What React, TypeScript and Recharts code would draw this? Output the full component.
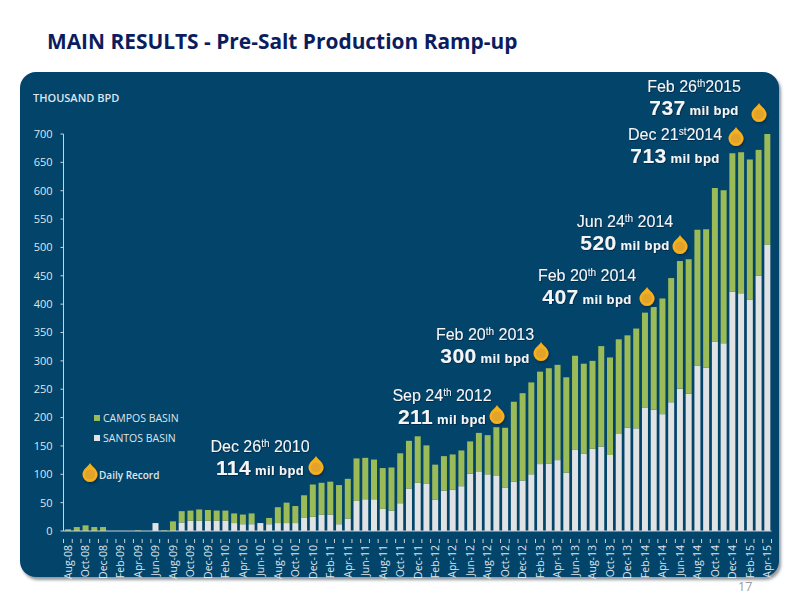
import { Bar, BarChart, Legend, XAxis, YAxis } from "recharts"

const MONTHS = [
  "Aug-08", "Sep-08", "Oct-08", "Nov-08", "Dec-08", "Jan-09", "Feb-09", "Mar-09", "Apr-09", "May-09", "Jun-09", "Jul-09",
  "Aug-09", "Sep-09", "Oct-09", "Nov-09", "Dec-09", "Jan-10", "Feb-10", "Mar-10", "Apr-10", "May-10", "Jun-10", "Jul-10",
  "Aug-10", "Sep-10", "Oct-10", "Nov-10", "Dec-10", "Jan-11", "Feb-11", "Mar-11", "Apr-11", "May-11", "Jun-11", "Jul-11",
  "Aug-11", "Sep-11", "Oct-11", "Nov-11", "Dec-11", "Jan-12", "Feb-12", "Mar-12", "Apr-12", "May-12", "Jun-12", "Jul-12",
  "Aug-12", "Sep-12", "Oct-12", "Nov-12", "Dec-12", "Jan-13", "Feb-13", "Mar-13", "Apr-13", "May-13", "Jun-13", "Jul-13",
  "Aug-13", "Sep-13", "Oct-13", "Nov-13", "Dec-13", "Jan-14", "Feb-14", "Mar-14", "Apr-14", "May-14", "Jun-14", "Jul-14",
  "Aug-14", "Sep-14", "Oct-14", "Nov-14", "Dec-14", "Jan-15", "Feb-15", "Mar-15", "Apr-15",
]

const SANTOS = [
  0, 0, 0, 0, 0, 0, 0, 0, 0, 0, 14, 0,
  0, 15, 18, 18, 18, 18, 18, 14, 12, 12, 14, 12,
  14, 14, 14, 23, 25, 29, 29, 12, 22, 53, 56, 56,
  39, 36, 49, 75, 85, 83, 55, 71, 73, 79, 101, 104,
  100, 97, 76, 87, 89, 100, 118, 119, 125, 103, 143, 136,
  145, 149, 134, 171, 182, 181, 217, 214, 206, 227, 251, 242,
  292, 288, 334, 331, 422, 419, 408, 450, 505,
]

const CAMPOS = [
  3, 7, 10, 7, 7, 0, 0, 0, 1, 0, 0, 1,
  17, 20, 18, 20, 19, 18, 18, 17, 17, 19, 0, 11,
  28, 36, 30, 40, 57, 56, 58, 69, 70, 75, 73, 70,
  72, 76, 88, 84, 82, 68, 62, 61, 62, 63, 57, 69,
  69, 86, 106, 141, 154, 162, 163, 168, 168, 168, 166, 159,
  155, 177, 172, 167, 163, 176, 168, 181, 204, 219, 225, 237,
  239, 244, 271, 270, 244, 249, 247, 222, 195,
]

const Y_TICKS = [0, 50, 100, 150, 200, 250, 300, 350, 400, 450, 500, 550, 600, 650, 700]

const RECORDS = [
  { day: "Dec 26", suffix: "th", year: " 2010", value: "114", x: 260, y: 452, dropX: 316, dropY: 466 },
  { day: "Sep 24", suffix: "th", year: " 2012", value: "211", x: 442, y: 401, dropX: 497, dropY: 415 },
  { day: "Feb 20", suffix: "th", year: " 2013", value: "300", x: 485, y: 340, dropX: 541, dropY: 352 },
  { day: "Feb 20", suffix: "th", year: " 2014", value: "407", x: 587, y: 281, dropX: 647, dropY: 297 },
  { day: "Jun 24", suffix: "th", year: " 2014", value: "520", x: 625, y: 227, dropX: 680, dropY: 245 },
  { day: "Dec 21", suffix: "st", year: "2014", value: "713", x: 675, y: 140, dropX: 736, dropY: 137 },
  { day: "Feb 26", suffix: "th", year: "2015", value: "737", x: 694, y: 92, dropX: 759, dropY: 113 },
]

const chartData = MONTHS.map((month, i) => ({
  month,
  santos: SANTOS[i],
  campos: CAMPOS[i],
}))

const AXIS_COLOR = "#c9d3db"
const LABEL_COLOR = "#dfe6eb"
const UI_FONT = "'Open Sans', sans-serif"
const NOTE_FONT = "'Liberation Sans Narrow', 'Liberation Sans', Arial, sans-serif"

const PLOT_LEFT = 63.5
const PLOT_RIGHT = 771.5
const BAND = (PLOT_RIGHT - PLOT_LEFT) / MONTHS.length

const MonthTick = ({ x, y, payload, index }: any) => {
  const left = x - BAND / 2
  return (
    <g>
      <line x1={left} x2={left} y1={y} y2={y + 4} stroke={AXIS_COLOR} />
      {index === MONTHS.length - 1 && (
        <line x1={left + BAND} x2={left + BAND} y1={y} y2={y + 4} stroke={AXIS_COLOR} />
      )}
      {index % 2 === 0 && (
        <text
          transform={`translate(${x + 4},${y + 6}) rotate(-90)`}
          textAnchor="end"
          fontSize={10.5}
          fontFamily={UI_FONT}
          fill={LABEL_COLOR}
        >
          {payload.value}
        </text>
      )}
    </g>
  )
}

const Drop = ({ x, y }: { x: number; y: number }) => (
  <g transform={`translate(${x},${y})`} filter="url(#dropShadow)">
    <path
      d="M0,-10 C1.5,-6.5 7.5,-4 7.5,1.5 A7.5,7.5 0 0 1 -7.5,1.5 C-7.5,-4 -1.5,-6.5 0,-10 Z"
      fill="#f5b01a"
    />
    <circle cx={0} cy={1.5} r={5} fill="#e3a32c" />
  </g>
)

const BasinLegend = () => (
  <div style={{ fontFamily: UI_FONT, fontSize: 10.5, color: LABEL_COLOR, lineHeight: "20px" }}>
    {[
      { name: "CAMPOS BASIN", color: "#9bbb59" },
      { name: "SANTOS BASIN", color: "#e0e2e4" },
    ].map((item) => (
      <div key={item.name} style={{ display: "flex", alignItems: "center" }}>
        <span style={{ width: 6, height: 6, marginRight: 3, background: item.color }} />
        {item.name}
      </div>
    ))}
  </div>
)

export default function App() {
  return (
    <div style={{ position: "absolute", left: 0, top: 0, width: 800, height: 600, background: "#fff", overflow: "hidden" }}>
      <div
        style={{
          position: "absolute",
          left: 47,
          top: 27,
          fontFamily: UI_FONT,
          fontWeight: 700,
          fontSize: 20.9,
          color: "#0b1d5e",
          whiteSpace: "nowrap",
        }}
      >
        MAIN RESULTS - Pre-Salt Production Ramp-up
      </div>
      <div
        style={{
          position: "absolute",
          left: 20,
          top: 72,
          width: 759,
          height: 505,
          borderRadius: 16,
          background: "#03446a",
          boxShadow: "2px 3px 3px rgba(90,100,110,0.65)",
        }}
      />
      <div
        style={{
          position: "absolute",
          left: 33,
          top: 90,
          fontFamily: UI_FONT,
          fontSize: 11,
          fontWeight: 600,
          color: LABEL_COLOR,
        }}
      >
        THOUSAND BPD
      </div>
      <div style={{ position: "absolute", left: 0, top: 0 }}>
        <BarChart
          width={800}
          height={600}
          data={chartData}
          barCategoryGap="18%"
          margin={{ top: 134, right: 800 - PLOT_RIGHT, bottom: 0, left: 0 }}
        >
          <YAxis
            width={PLOT_LEFT}
            domain={[0, 700]}
            ticks={Y_TICKS}
            interval={0}
            stroke={AXIS_COLOR}
            tickSize={3}
            tickMargin={8}
            tick={{ fontSize: 11, fontFamily: UI_FONT, fill: LABEL_COLOR }}
          />
          <XAxis
            dataKey="month"
            height={69}
            interval={0}
            stroke={AXIS_COLOR}
            tickLine={false}
            tick={<MonthTick />}
          />
          <Legend
            layout="horizontal"
            verticalAlign="middle"
            align="center"
            wrapperStyle={{ left: 94, top: 408, width: 110 }}
            content={<BasinLegend />}
          />
          <Bar dataKey="santos" stackId="a" fill="#e0e2e4" isAnimationActive={false} />
          <Bar dataKey="campos" stackId="a" fill="#9bbb59" isAnimationActive={false} />
        </BarChart>
      </div>
      <svg width={800} height={600} style={{ position: "absolute", left: 0, top: 0 }}>
        <defs>
          <filter id="dropShadow" x="-40%" y="-40%" width="200%" height="200%">
            <feDropShadow dx={1} dy={1.5} stdDeviation={1} floodColor="#01233a" floodOpacity={0.7} />
          </filter>
          <filter id="textShadow" x="-10%" y="-20%" width="120%" height="150%">
            <feDropShadow dx={0.8} dy={0.8} stdDeviation={0.6} floodColor="#01233a" floodOpacity={0.8} />
          </filter>
        </defs>
        {RECORDS.map((r) => (
          <g key={r.value}>
            <Drop x={r.dropX} y={r.dropY} />
            <text
              x={r.x}
              y={r.y}
              textAnchor="middle"
              fontFamily={NOTE_FONT}
              fontSize={16}
              fill="#f3f5f7"
              filter="url(#textShadow)"
            >
              {r.day}
              <tspan fontSize={10} dy={-5}>{r.suffix}</tspan>
              <tspan dy={5}>{r.year}</tspan>
            </text>
            <text
              x={r.x}
              y={r.y + 23}
              textAnchor="middle"
              fontFamily={NOTE_FONT}
              fontWeight={700}
              fontSize={13}
              letterSpacing={0.4}
              fill="#f3f5f7"
              filter="url(#textShadow)"
            >
              <tspan fontSize={21}>{r.value}</tspan> mil bpd
            </text>
          </g>
        ))}
        <Drop x={90} y={473} />
        <text x={99} y={479} fontFamily={UI_FONT} fontSize={10} fontWeight={600} fill={LABEL_COLOR}>
          Daily Record
        </text>
        <text x={738} y={591} fontFamily={UI_FONT} fontSize={12.5} fill="#9a9a9a">
          17
        </text>
      </svg>
    </div>
  )
}
